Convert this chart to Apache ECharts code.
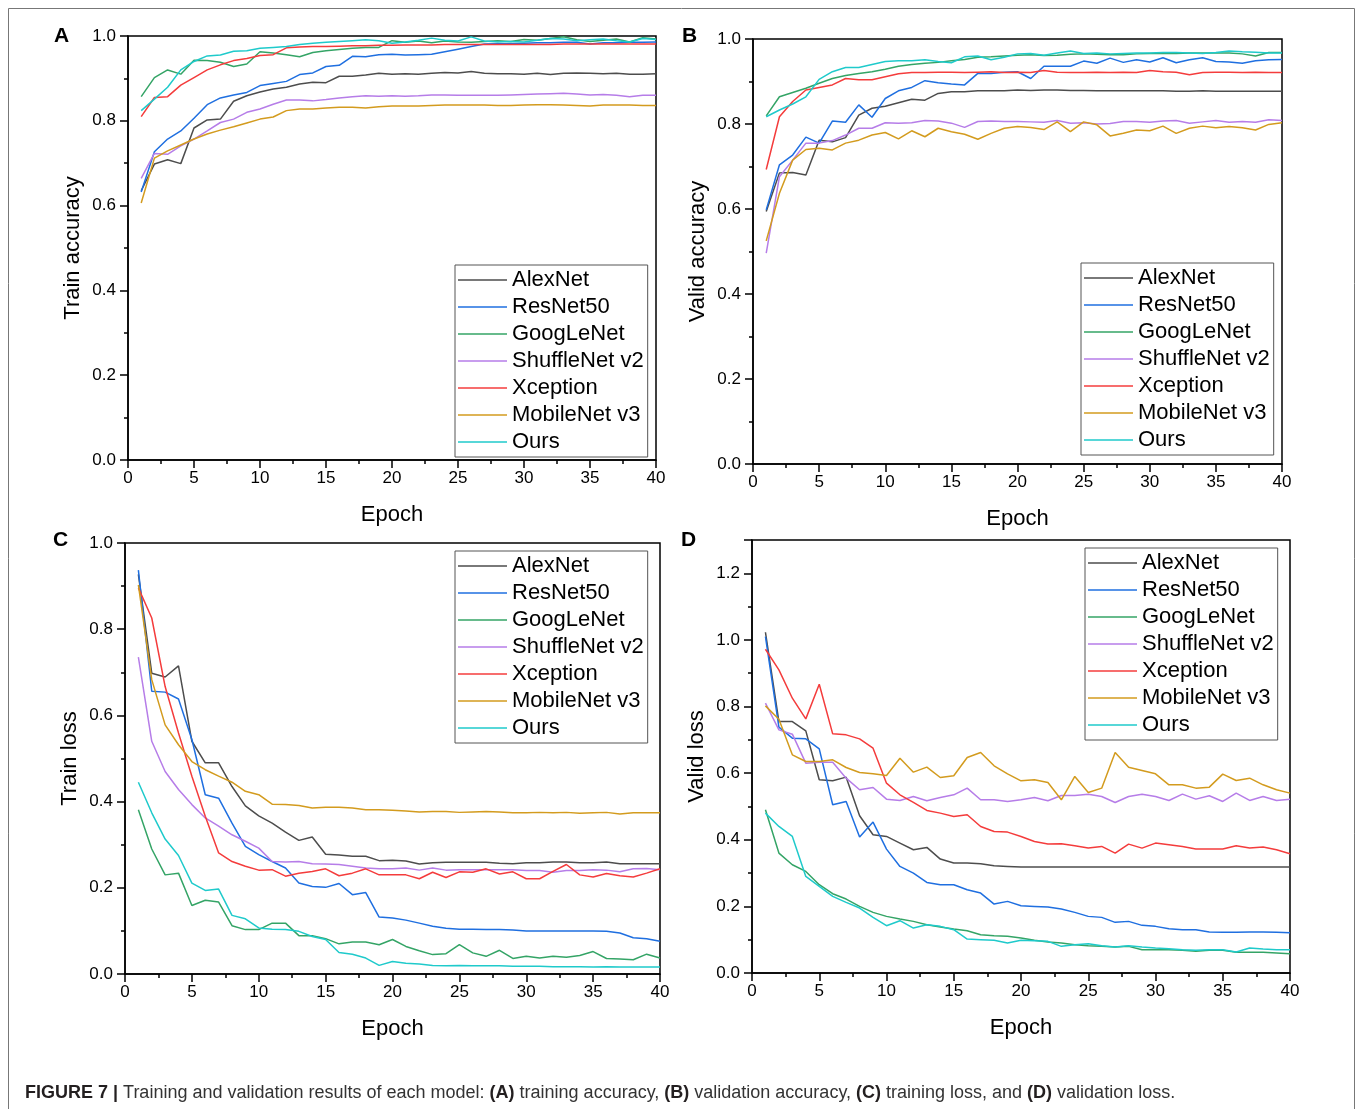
<!DOCTYPE html>
<html>
<head>
<meta charset="utf-8">
<script src="https://cdn.jsdelivr.net/npm/echarts@6/dist/echarts.min.js"></script>
<style>
html,body{margin:0;padding:0;background:#fff;}
#chart{width:1358px;height:1109px;}
</style>
</head>
<body>
<div id="chart"></div>
<script>
const epochs = [1,2,3,4,5,6,7,8,9,10,11,12,13,14,15,16,17,18,19,20,21,22,23,24,25,26,27,28,29,30,31,32,33,34,35,36,37,38,39,40];
const models = ['AlexNet','ResNet50','GoogLeNet','ShuffleNet v2','Xception','MobileNet v3','Ours'];
const xTicks = [0,5,10,15,20,25,30,35,40];

// Panel A: train accuracy
const trainAccAlexNet = [0.635,0.698,0.708,0.699,0.783,0.802,0.804,0.846,0.859,0.868,0.875,0.879,0.887,0.891,0.890,0.905,0.905,0.908,0.912,0.910,0.911,0.910,0.912,0.914,0.913,0.916,0.912,0.911,0.911,0.910,0.912,0.909,0.912,0.913,0.912,0.911,0.912,0.910,0.910,0.911];
const trainAccResNet50 = [0.632,0.727,0.757,0.776,0.806,0.838,0.854,0.861,0.867,0.883,0.888,0.893,0.909,0.913,0.928,0.931,0.952,0.951,0.956,0.957,0.955,0.956,0.957,0.963,0.969,0.975,0.981,0.982,0.982,0.983,0.984,0.984,0.985,0.985,0.981,0.984,0.984,0.985,0.985,0.986];
const trainAccGoogLeNet = [0.857,0.902,0.920,0.910,0.943,0.942,0.938,0.928,0.934,0.963,0.960,0.956,0.951,0.961,0.965,0.968,0.971,0.973,0.973,0.989,0.985,0.988,0.984,0.988,0.986,0.985,0.987,0.989,0.987,0.992,0.990,0.994,0.998,0.991,0.987,0.990,0.993,0.986,0.996,0.993];
const trainAccShuffleNet = [0.664,0.723,0.721,0.741,0.757,0.776,0.796,0.804,0.820,0.828,0.839,0.849,0.849,0.847,0.850,0.854,0.857,0.859,0.858,0.859,0.858,0.859,0.861,0.861,0.860,0.860,0.860,0.860,0.861,0.862,0.863,0.864,0.865,0.863,0.861,0.862,0.860,0.857,0.860,0.860];
const trainAccXception = [0.810,0.855,0.857,0.884,0.902,0.920,0.932,0.942,0.947,0.954,0.956,0.972,0.974,0.975,0.975,0.976,0.977,0.977,0.978,0.978,0.979,0.979,0.979,0.980,0.980,0.980,0.980,0.980,0.980,0.980,0.980,0.980,0.981,0.981,0.981,0.981,0.981,0.981,0.981,0.981];
const trainAccMobileNet = [0.606,0.712,0.729,0.743,0.757,0.769,0.778,0.786,0.795,0.804,0.809,0.824,0.828,0.828,0.830,0.832,0.832,0.830,0.833,0.835,0.835,0.835,0.836,0.837,0.837,0.837,0.837,0.836,0.836,0.837,0.838,0.838,0.837,0.836,0.835,0.837,0.837,0.837,0.836,0.836];
const trainAccOurs = [0.824,0.851,0.879,0.920,0.940,0.953,0.955,0.964,0.965,0.971,0.973,0.975,0.980,0.983,0.985,0.987,0.989,0.991,0.989,0.983,0.986,0.990,0.995,0.990,0.988,0.998,0.988,0.986,0.987,0.986,0.990,0.994,0.993,0.989,0.991,0.993,0.989,0.986,0.994,0.992];

// Panel B: valid accuracy
const validAccAlexNet = [0.594,0.685,0.686,0.680,0.762,0.758,0.768,0.821,0.837,0.842,0.850,0.858,0.856,0.872,0.876,0.876,0.878,0.878,0.878,0.880,0.879,0.880,0.880,0.879,0.879,0.878,0.878,0.878,0.878,0.878,0.878,0.877,0.877,0.878,0.877,0.877,0.877,0.877,0.877,0.877];
const validAccResNet50 = [0.598,0.704,0.727,0.769,0.755,0.807,0.804,0.845,0.816,0.860,0.878,0.886,0.902,0.897,0.894,0.892,0.919,0.919,0.922,0.923,0.907,0.936,0.936,0.936,0.948,0.943,0.955,0.945,0.951,0.946,0.956,0.944,0.951,0.956,0.947,0.946,0.943,0.949,0.951,0.952];
const validAccGoogLeNet = [0.819,0.864,0.874,0.884,0.896,0.907,0.914,0.919,0.923,0.929,0.936,0.940,0.943,0.945,0.949,0.952,0.957,0.958,0.960,0.962,0.963,0.961,0.962,0.964,0.965,0.964,0.963,0.963,0.965,0.966,0.966,0.966,0.967,0.967,0.967,0.967,0.965,0.960,0.968,0.968];
const validAccShuffleNet = [0.496,0.676,0.715,0.755,0.755,0.761,0.774,0.790,0.790,0.803,0.802,0.803,0.808,0.807,0.802,0.792,0.806,0.807,0.806,0.806,0.805,0.804,0.808,0.802,0.803,0.800,0.801,0.806,0.806,0.804,0.807,0.808,0.802,0.805,0.808,0.804,0.806,0.804,0.810,0.808];
const validAccXception = [0.693,0.817,0.853,0.880,0.886,0.892,0.907,0.904,0.904,0.911,0.918,0.921,0.921,0.922,0.922,0.921,0.922,0.923,0.921,0.922,0.921,0.926,0.922,0.921,0.921,0.922,0.921,0.922,0.921,0.926,0.923,0.922,0.916,0.921,0.922,0.922,0.921,0.922,0.921,0.921];
const validAccMobileNet = [0.525,0.637,0.715,0.740,0.743,0.739,0.755,0.762,0.774,0.780,0.765,0.784,0.770,0.790,0.782,0.776,0.764,0.778,0.790,0.794,0.792,0.787,0.805,0.782,0.805,0.798,0.772,0.778,0.786,0.784,0.795,0.778,0.790,0.795,0.791,0.794,0.791,0.786,0.799,0.803];
const validAccOurs = [0.817,0.833,0.847,0.864,0.905,0.923,0.933,0.933,0.940,0.947,0.949,0.949,0.951,0.947,0.944,0.958,0.960,0.951,0.957,0.965,0.966,0.962,0.967,0.972,0.966,0.967,0.965,0.966,0.967,0.967,0.968,0.968,0.967,0.966,0.968,0.972,0.970,0.969,0.967,0.967];

// Panel C: train loss
const trainLossAlexNet = [0.927,0.698,0.689,0.715,0.540,0.490,0.490,0.435,0.390,0.367,0.350,0.329,0.310,0.318,0.278,0.276,0.273,0.273,0.263,0.264,0.262,0.255,0.258,0.259,0.259,0.259,0.259,0.257,0.256,0.258,0.258,0.260,0.260,0.258,0.258,0.260,0.256,0.256,0.256,0.256];
const trainLossResNet50 = [0.937,0.656,0.654,0.638,0.544,0.416,0.408,0.350,0.296,0.277,0.261,0.246,0.211,0.203,0.201,0.210,0.184,0.189,0.132,0.130,0.125,0.118,0.111,0.106,0.104,0.104,0.103,0.103,0.102,0.100,0.100,0.100,0.100,0.100,0.100,0.099,0.095,0.084,0.082,0.076];
const trainLossGoogLeNet = [0.381,0.290,0.230,0.234,0.159,0.171,0.167,0.112,0.103,0.103,0.118,0.118,0.089,0.089,0.082,0.070,0.074,0.074,0.068,0.080,0.064,0.054,0.045,0.047,0.068,0.049,0.041,0.055,0.036,0.041,0.037,0.041,0.039,0.043,0.052,0.036,0.035,0.033,0.046,0.037];
const trainLossShuffleNet = [0.735,0.540,0.470,0.428,0.393,0.362,0.343,0.323,0.308,0.292,0.261,0.260,0.261,0.256,0.255,0.254,0.250,0.246,0.244,0.244,0.246,0.241,0.246,0.241,0.242,0.242,0.242,0.242,0.242,0.240,0.240,0.236,0.240,0.240,0.242,0.241,0.237,0.244,0.245,0.242];
const trainLossXception = [0.896,0.826,0.667,0.559,0.459,0.366,0.281,0.261,0.250,0.241,0.242,0.227,0.234,0.238,0.244,0.228,0.234,0.244,0.230,0.230,0.230,0.221,0.236,0.224,0.237,0.236,0.244,0.232,0.237,0.221,0.221,0.238,0.254,0.230,0.225,0.233,0.228,0.225,0.234,0.244];
const trainLossMobileNet = [0.903,0.683,0.578,0.532,0.493,0.474,0.459,0.445,0.424,0.416,0.394,0.393,0.391,0.385,0.387,0.387,0.385,0.381,0.381,0.380,0.378,0.376,0.377,0.377,0.375,0.376,0.377,0.376,0.374,0.374,0.375,0.374,0.375,0.373,0.374,0.375,0.371,0.374,0.374,0.374];
const trainLossOurs = [0.445,0.374,0.313,0.275,0.211,0.194,0.197,0.136,0.128,0.107,0.104,0.103,0.099,0.087,0.080,0.050,0.046,0.037,0.020,0.029,0.025,0.023,0.020,0.019,0.020,0.019,0.019,0.019,0.018,0.018,0.018,0.017,0.017,0.017,0.016,0.017,0.016,0.016,0.016,0.016];

// Panel D: valid loss
const validLossAlexNet = [1.023,0.755,0.755,0.727,0.580,0.577,0.588,0.472,0.415,0.410,0.390,0.370,0.377,0.342,0.330,0.330,0.328,0.322,0.320,0.318,0.318,0.318,0.318,0.318,0.318,0.318,0.318,0.318,0.318,0.318,0.318,0.318,0.318,0.318,0.318,0.318,0.318,0.318,0.318,0.318];
const validLossResNet50 = [1.010,0.738,0.705,0.703,0.673,0.505,0.515,0.408,0.453,0.372,0.320,0.300,0.272,0.265,0.265,0.250,0.240,0.207,0.215,0.202,0.200,0.198,0.192,0.182,0.170,0.167,0.152,0.155,0.143,0.140,0.133,0.130,0.130,0.123,0.122,0.122,0.123,0.123,0.122,0.121];
const validLossGoogLeNet = [0.490,0.360,0.325,0.305,0.265,0.238,0.222,0.200,0.182,0.170,0.162,0.155,0.145,0.138,0.132,0.127,0.115,0.112,0.110,0.105,0.098,0.093,0.090,0.085,0.082,0.080,0.078,0.080,0.070,0.070,0.070,0.068,0.065,0.068,0.068,0.062,0.062,0.062,0.060,0.058];
const validLossShuffleNet = [0.810,0.730,0.717,0.630,0.633,0.633,0.585,0.550,0.557,0.522,0.518,0.530,0.517,0.527,0.535,0.555,0.520,0.520,0.515,0.520,0.527,0.517,0.533,0.533,0.537,0.530,0.512,0.530,0.537,0.530,0.518,0.537,0.522,0.532,0.515,0.540,0.518,0.530,0.518,0.522];
const validLossXception = [0.972,0.910,0.825,0.763,0.867,0.718,0.715,0.703,0.675,0.570,0.535,0.512,0.488,0.480,0.470,0.475,0.440,0.425,0.423,0.410,0.395,0.387,0.388,0.382,0.375,0.380,0.360,0.387,0.375,0.390,0.385,0.380,0.372,0.372,0.372,0.382,0.375,0.378,0.370,0.358];
const validLossMobileNet = [0.802,0.762,0.655,0.635,0.635,0.640,0.617,0.602,0.598,0.593,0.645,0.603,0.618,0.587,0.592,0.647,0.662,0.622,0.598,0.577,0.580,0.572,0.520,0.590,0.542,0.555,0.662,0.618,0.608,0.598,0.565,0.565,0.555,0.558,0.597,0.578,0.585,0.565,0.550,0.540];
const validLossOurs = [0.480,0.440,0.410,0.290,0.260,0.230,0.212,0.195,0.167,0.142,0.157,0.135,0.145,0.140,0.130,0.102,0.100,0.098,0.090,0.098,0.097,0.095,0.080,0.085,0.088,0.082,0.078,0.082,0.078,0.075,0.073,0.070,0.068,0.070,0.070,0.063,0.075,0.072,0.070,0.070];

const panelTitles = ['A','B','C','D'];
const yNames = ['Train accuracy','Valid accuracy','Train loss','Valid loss'];
const xName = 'Epoch';
const caption = 'Training and validation results of each model: ';

const panelData = [
  [trainAccAlexNet,trainAccResNet50,trainAccGoogLeNet,trainAccShuffleNet,trainAccXception,trainAccMobileNet,trainAccOurs],
  [validAccAlexNet,validAccResNet50,validAccGoogLeNet,validAccShuffleNet,validAccXception,validAccMobileNet,validAccOurs],
  [trainLossAlexNet,trainLossResNet50,trainLossGoogLeNet,trainLossShuffleNet,trainLossXception,trainLossMobileNet,trainLossOurs],
  [validLossAlexNet,validLossResNet50,validLossGoogLeNet,validLossShuffleNet,validLossXception,validLossMobileNet,validLossOurs]
];

const colors = ['#4d4d4d','#1f6fe0','#34a466','#b67de8','#f43c3c','#d39b1e','#1fcacb'];
const FONT = "'Liberation Sans', Arial, sans-serif";

const grids = [
  {left:128, top:36, width:528, height:424},
  {left:753, top:39, width:529, height:425},
  {left:125, top:543, width:535, height:431},
  {left:752, top:540, width:538, height:433}
];
const yMax = [1, 1, 1, 1.3];
const legendPos = [
  {left:455, top:265},
  {left:1081, top:263},
  {left:455, top:551},
  {left:1085, top:548}
];
const letterPos = [[54,26],[682,26],[53,530],[681,530]];

const axisLineStyle = {color:'#000', width:1.5};

const option = {
  animation:false,
  textStyle:{fontFamily:FONT},
  grid: grids.map(g => Object.assign({show:true, borderColor:'#000', borderWidth:1.5, backgroundColor:'transparent'}, g)),
  xAxis: grids.map((g,i) => ({
    type:'value', gridIndex:i, min:0, max:40, interval:5,
    name:xName, nameLocation:'middle', nameGap:44,
    nameTextStyle:{fontSize:22, color:'#000', fontFamily:FONT},
    axisLine:{show:true, onZero:false, lineStyle:axisLineStyle},
    axisTick:{show:true, length:8, lineStyle:axisLineStyle},
    minorTick:{show:true, splitNumber:2, length:4, lineStyle:axisLineStyle},
    splitLine:{show:false},
    axisLabel:{fontSize:17, color:'#000', margin:10, fontFamily:FONT}
  })),
  yAxis: grids.map((g,i) => ({
    type:'value', gridIndex:i, min:0, max:yMax[i], interval:0.2,
    name:yNames[i], nameLocation:'middle', nameGap:44,
    nameTextStyle:{fontSize:22, color:'#000', fontFamily:FONT},
    axisLine:{show:true, onZero:false, lineStyle:axisLineStyle},
    axisTick:{show:true, length:8, lineStyle:axisLineStyle},
    minorTick:{show:true, splitNumber:2, length:4, lineStyle:axisLineStyle},
    splitLine:{show:false},
    axisLabel:{fontSize:17, color:'#000', margin:12, fontFamily:FONT,
      formatter: v => (Math.abs(v - Math.round(v*5)/5) > 1e-6) ? '' : v.toFixed(1)}
  })),
  legend: legendPos.map(p => ({
    data: models.map(n => ({name:n, icon:'rect'})),
    orient:'vertical', left:p.left, top:p.top,
    itemWidth:49, itemHeight:1.5, itemGap:5, itemTextGap:7,
    padding:[4,4,4,3], borderColor:'#555', borderWidth:1, backgroundColor:'#fff',
    textStyle:{fontSize:22, lineHeight:22, color:'#000', fontFamily:FONT},
    selectedMode:false
  })),
  series: [],
  graphic: []
};

panelData.forEach((arrs, p) => {
  arrs.forEach((arr, m) => {
    option.series.push({
      type:'line', name:models[m], xAxisIndex:p, yAxisIndex:p,
      data: epochs.map((e,i) => [e, arr[i]]),
      symbol:'none', showSymbol:false,
      lineStyle:{width:1.5, color:colors[m]},
      itemStyle:{color:colors[m]},
      z: 2 + m
    });
  });
});

// figure frame
option.graphic.push({type:'polyline', silent:true, z:0,
  shape:{points:[[8.5,1109],[8.5,8.5],[1354.5,8.5],[1354.5,1109]]},
  style:{stroke:'#777', lineWidth:1, fill:null}});
// panel letters
panelTitles.forEach((t,i) => {
  option.graphic.push({type:'text', left:letterPos[i][0], top:letterPos[i][1], silent:true,
    style:{text:t, font:"bold 21px " + FONT, fill:'#000'}});
});
// caption
option.graphic.push({type:'text', left:25, top:1084, silent:true,
  style:{
    text:'{b|FIGURE 7 |} ' + caption + '{b|(A)} training accuracy, {b|(B)} validation accuracy, {b|(C)} training loss, and {b|(D)} validation loss.',
    font:"18px 'Liberation Sans', Arial, sans-serif",
    fill:'#333',
    rich:{b:{fontWeight:'bold', fill:'#231f20', fontFamily:"'Liberation Sans', Arial, sans-serif", fontSize:18}}
  }});

const chart = echarts.init(document.getElementById('chart'), null, {renderer:'canvas'});
chart.setOption(option);
</script>
</body>
</html>
